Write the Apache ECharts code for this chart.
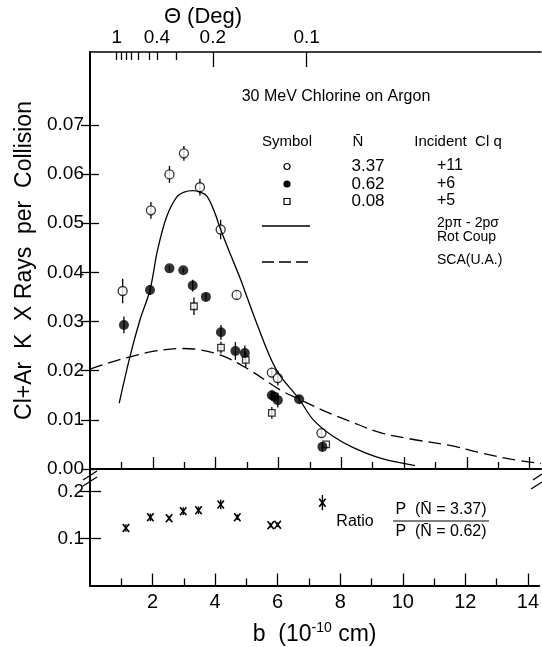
<!DOCTYPE html>
<html><head><meta charset="utf-8">
<script src="https://cdn.jsdelivr.net/npm/echarts@6/dist/echarts.min.js"></script>
<style>html,body{margin:0;padding:0;background:#fff}#c{width:542px;height:647px}</style>
</head><body><div id="c"></div>
<script>
// ---- data ----
const bTicksMajor = [2, 4, 6, 8, 10, 12, 14];
const bTicksMinor = [1, 3, 5, 7, 9, 11, 13];
const pTicks = [0, 0.01, 0.02, 0.03, 0.04, 0.05, 0.06, 0.07];
const ratioTicks = [0.1, 0.2];
const thetaVals = [1, 0.9, 0.8, 0.7, 0.6, 0.5, 0.4, 0.3, 0.2, 0.1];
const thetaPosB = [0.85, 0.99, 1.14, 1.30, 1.54, 1.88, 2.13, 2.76, 3.91, 6.90];
const thetaLabelVals = [1, 0.4, 0.2, 0.1];
const thetaLongVals = [0.2, 0.1];

// N = 3.37 (open circles)
const openB   = [1.04, 1.94, 2.53, 2.99, 3.50, 4.16, 4.67, 5.79, 5.98, 7.37];
const openP   = [0.0362, 0.0526, 0.0599, 0.0642, 0.0573, 0.0487, 0.0354, 0.0196, 0.0185, 0.0073];
const openErr = [0.0025, 0.0017, 0.0017, 0.0015, 0.0017, 0.0020, 0.0010, 0.0010, 0.0015, 0.0008];
// N = 0.62 (filled circles)
const fillB   = [1.08, 1.91, 2.53, 2.97, 3.27, 3.69, 4.17, 4.63, 4.93, 5.79, 5.87, 5.98, 6.66, 7.40];
const fillP   = [0.0293, 0.0364, 0.0408, 0.0404, 0.0373, 0.0350, 0.0278, 0.0240, 0.0236, 0.0150, 0.0147, 0.0140, 0.0142, 0.0045];
const fillErr = [0.0017, 0.0010, 0.0005, 0.0005, 0.0012, 0.0008, 0.0015, 0.0018, 0.0015, 0.0010, 0.0010, 0.0015, 0.0008, 0.0010];
// N = 0.08 (open squares)
const sqB   = [3.31, 4.17, 4.96, 5.79, 7.52];
const sqP   = [0.0331, 0.0247, 0.0222, 0.0114, 0.0050];
const sqErr = [0.0018, 0.0012, 0.0015, 0.0012, 0.0005];
// 2p pi - 2p sigma rotational coupling (solid)
const rotB = [0.93, 1.27, 1.59, 1.91, 2.15, 2.44, 2.76, 3.00, 3.27, 3.50, 3.72, 3.95, 4.16, 4.48, 4.78, 5.31, 5.94, 6.66, 7.11, 7.75, 8.40, 9.30, 10.35];
const rotP = [0.0134, 0.0228, 0.0303, 0.0364, 0.0445, 0.0513, 0.0553, 0.0563, 0.0566, 0.0563, 0.0555, 0.0525, 0.0487, 0.0435, 0.0388, 0.0296, 0.0201, 0.0142, 0.0100, 0.0066, 0.0043, 0.0021, 0.0007];
// SCA (U.A.) (dashed)
const scaB = [0, 0.6, 1.27, 2.0, 2.87, 3.3, 4.14, 4.99, 6.05, 6.66, 7.64, 8.2, 9.24, 10.3, 11.46, 12.5, 13.4, 14.36];
const scaP = [0.0203, 0.0216, 0.0228, 0.0239, 0.0245, 0.0244, 0.0232, 0.0205, 0.0161, 0.0142, 0.0113, 0.0099, 0.0074, 0.0060, 0.0048, 0.0032, 0.0020, 0.0011];
// Ratio panel
const ratioB   = [1.15, 1.93, 2.53, 2.98, 3.47, 4.18, 4.71, 5.78, 6.00, 7.43];
const ratioV   = [0.122, 0.145, 0.143, 0.158, 0.160, 0.172, 0.145, 0.128, 0.129, 0.176];
const ratioErr = [0.008, 0.008, 0.005, 0.008, 0.008, 0.010, 0.006, 0.005, 0.005, 0.016];

// ---- helpers ----
const zip = (a, b, c) => a.map((v, i) => c ? [v, b[i], c[i]] : [v, b[i]]);
const FONT = 'Liberation Sans';
const thetaLabelPos = thetaLabelVals.map(v => thetaPosB[thetaVals.indexOf(v)]);
const thetaLongPos = thetaLongVals.map(v => thetaPosB[thetaVals.indexOf(v)]);
const thetaShortPos = thetaPosB.filter((p, i) => thetaLongVals.indexOf(thetaVals[i]) < 0);
const XMAX = 14.36, YMAX = 0.0848, RMAX = 0.2475;

function errRender(params, api) {
  const x = api.value(0), y = api.value(1), e = api.value(2);
  const p1 = api.coord([x, y - e]), p2 = api.coord([x, y + e]);
  return { type: 'line', shape: { x1: p1[0], y1: p1[1], x2: p2[0], y2: p2[1] },
           style: { stroke: '#000', lineWidth: 1.3 } };
}
function starRender(params, api) {
  const x = api.value(0), y = api.value(1), e = api.value(2);
  const c = api.coord([x, y]);
  const p1 = api.coord([x, y - e]), p2 = api.coord([x, y + e]);
  const s = 3.2, t = 4;
  return { type: 'group', children: [
    { type: 'line', shape: { x1: p1[0], y1: p1[1], x2: p2[0], y2: p2[1] }, style: { stroke: '#000', lineWidth: 1.4 } },
    { type: 'line', shape: { x1: c[0] - s, y1: c[1] - t, x2: c[0] + s, y2: c[1] + t }, style: { stroke: '#000', lineWidth: 1.6 } },
    { type: 'line', shape: { x1: c[0] - s, y1: c[1] + t, x2: c[0] + s, y2: c[1] - t }, style: { stroke: '#000', lineWidth: 1.6 } }
  ]};
}

const lineBold = { show: true, lineStyle: { color: '#000', width: 2 } };
const lineThin = { show: true, lineStyle: { color: '#000', width: 1.5 } };
const noLine = { show: false };
const tk = (vals, len) => ({ show: true, inside: true, length: len, customValues: vals, lineStyle: { color: '#000', width: 1.3 } });
const noLabel = { show: false };
const noSplit = { show: false };

function xAx(grid, pos, line, tick, label, extra) {
  return Object.assign({ type: 'value', gridIndex: grid, position: pos, min: 0, max: XMAX,
    axisLine: line, axisTick: tick, axisLabel: label, splitLine: noSplit }, extra || {});
}

const option = {
  animation: false,
  backgroundColor: '#fff',
  grid: [
    { left: 90, top: 52, width: 451, height: 417 },
    { left: 90, top: 469, width: 451, height: 123 }
  ],
  xAxis: [
    xAx(0, 'bottom', lineBold, tk(bTicksMajor, 12), noLabel),
    xAx(0, 'bottom', noLine, tk(bTicksMinor, 7), noLabel),
    xAx(0, 'top', lineThin, tk(thetaShortPos, 8), {
      show: true, customValues: thetaLabelPos, margin: 5, color: '#000', fontSize: 19, fontFamily: FONT,
      formatter: v => { let best = 0; thetaLabelPos.forEach((p, i) => { if (Math.abs(p - v) < Math.abs(thetaLabelPos[best] - v)) best = i; }); return String(thetaLabelVals[best]); }
    }),
    xAx(0, 'top', noLine, tk(thetaLongPos, 15), noLabel),
    xAx(1, 'bottom', lineBold, tk(bTicksMajor, 12), {
      show: true, customValues: bTicksMajor, margin: 7, color: '#000', fontSize: 20, fontFamily: FONT
    }, {
      name: 'b  (10{s|-10} cm)', nameLocation: 'middle', nameGap: 36,
      nameTextStyle: { color: '#000', fontSize: 23, fontFamily: FONT,
        rich: { s: { fontSize: 14, fontFamily: FONT, color: '#000', verticalAlign: 'top', padding: [0, 0, 12, 0] } } }
    }),
    xAx(1, 'bottom', noLine, tk(bTicksMinor, 7), noLabel)
  ],
  yAxis: [
    { type: 'value', gridIndex: 0, position: 'left', min: 0, max: YMAX,
      axisLine: lineBold, axisTick: tk(pTicks, 9), splitLine: noSplit,
      axisLabel: { show: true, customValues: pTicks, margin: 6, color: '#000', fontSize: 19, fontFamily: FONT, formatter: v => v.toFixed(2) },
      name: 'Cl+Ar  K  X Rays  per  Collision', nameLocation: 'middle', nameGap: 48,
      nameTextStyle: { color: '#000', fontSize: 23, fontFamily: FONT } },
    { type: 'value', gridIndex: 0, position: 'right', min: 0, max: YMAX,
      axisLine: lineThin, axisTick: tk(pTicks, 9), splitLine: noSplit, axisLabel: noLabel },
    { type: 'value', gridIndex: 1, position: 'left', min: 0, max: RMAX,
      axisLine: lineBold, axisTick: tk(ratioTicks, 11), splitLine: noSplit,
      axisLabel: { show: true, customValues: ratioTicks, margin: 6, color: '#000', fontSize: 19, fontFamily: FONT, formatter: v => v.toFixed(1) } },
    { type: 'value', gridIndex: 1, position: 'right', min: 0, max: RMAX,
      axisLine: lineThin, axisTick: tk(ratioTicks, 11), splitLine: noSplit, axisLabel: noLabel }
  ],
  graphic: [
    { type: 'text', x: 203, y: 17, style: { text: 'Θ (Deg)', font: '22px ' + FONT, fill: '#000', textAlign: 'center', textVerticalAlign: 'middle' } },
    { type: 'text', x: 336, y: 97, style: { text: '30 MeV Chlorine on Argon', font: '16px ' + FONT, fill: '#000', textAlign: 'center', textVerticalAlign: 'middle' } },
    // legend
    { type: 'text', x: 287, y: 142, style: { text: 'Symbol', font: '15px ' + FONT, fill: '#000', textAlign: 'center', textVerticalAlign: 'middle' } },
    { type: 'text', x: 358, y: 142, style: { text: 'N\u0304', font: '15px ' + FONT, fill: '#000', textAlign: 'center', textVerticalAlign: 'middle' } },
    { type: 'text', x: 458, y: 142, style: { text: 'Incident  Cl q', font: '15px ' + FONT, fill: '#000', textAlign: 'center', textVerticalAlign: 'middle' } },
    { type: 'circle', shape: { cx: 287, cy: 166.5, r: 3 }, style: { fill: '#fff', stroke: '#000', lineWidth: 1.2 } },
    { type: 'circle', shape: { cx: 287, cy: 184, r: 3.6 }, style: { fill: '#000' } },
    { type: 'rect', shape: { x: 284, y: 198.5, width: 6, height: 6 }, style: { fill: '#fff', stroke: '#000', lineWidth: 1.2 } },
    { type: 'text', x: 368, y: 166, style: { text: '3.37', font: '17px ' + FONT, fill: '#000', textAlign: 'center', textVerticalAlign: 'middle' } },
    { type: 'text', x: 368, y: 184, style: { text: '0.62', font: '17px ' + FONT, fill: '#000', textAlign: 'center', textVerticalAlign: 'middle' } },
    { type: 'text', x: 368, y: 201, style: { text: '0.08', font: '17px ' + FONT, fill: '#000', textAlign: 'center', textVerticalAlign: 'middle' } },
    { type: 'text', x: 437, y: 166, style: { text: '+11', font: '16px ' + FONT, fill: '#000', textAlign: 'left', textVerticalAlign: 'middle' } },
    { type: 'text', x: 437, y: 184, style: { text: '+6', font: '16px ' + FONT, fill: '#000', textAlign: 'left', textVerticalAlign: 'middle' } },
    { type: 'text', x: 437, y: 201, style: { text: '+5', font: '16px ' + FONT, fill: '#000', textAlign: 'left', textVerticalAlign: 'middle' } },
    { type: 'line', shape: { x1: 262, y1: 226, x2: 310, y2: 226 }, style: { stroke: '#000', lineWidth: 1.3 } },
    { type: 'line', shape: { x1: 262, y1: 262, x2: 310, y2: 262 }, style: { stroke: '#000', lineWidth: 1.3, lineDash: [12, 5] } },
    { type: 'text', x: 437, y: 223, style: { text: '2pπ - 2pσ', font: '14px ' + FONT, fill: '#000', textAlign: 'left', textVerticalAlign: 'middle' } },
    { type: 'text', x: 437, y: 237, style: { text: 'Rot Coup', font: '14px ' + FONT, fill: '#000', textAlign: 'left', textVerticalAlign: 'middle' } },
    { type: 'text', x: 437, y: 260, style: { text: 'SCA(U.A.)', font: '14px ' + FONT, fill: '#000', textAlign: 'left', textVerticalAlign: 'middle' } },
    // ratio annotation
    { type: 'text', x: 355, y: 522, style: { text: 'Ratio', font: '16px ' + FONT, fill: '#000', textAlign: 'center', textVerticalAlign: 'middle' } },
    { type: 'text', x: 441, y: 510, style: { text: 'P  (N\u0304 = 3.37)', font: '16px ' + FONT, fill: '#000', textAlign: 'center', textVerticalAlign: 'middle' } },
    { type: 'line', shape: { x1: 393, y1: 521, x2: 489, y2: 521 }, style: { stroke: '#000', lineWidth: 1.2 } },
    { type: 'text', x: 441, y: 532, style: { text: 'P  (N\u0304 = 0.62)', font: '16px ' + FONT, fill: '#000', textAlign: 'center', textVerticalAlign: 'middle' } },
    // axis break marks
    { type: 'line', shape: { x1: 83, y1: 480, x2: 97, y2: 471 }, style: { stroke: '#000', lineWidth: 1.3 } },
    { type: 'line', shape: { x1: 83, y1: 486, x2: 97, y2: 477 }, style: { stroke: '#000', lineWidth: 1.3 } },
    { type: 'line', shape: { x1: 533, y1: 480, x2: 542, y2: 474 }, style: { stroke: '#000', lineWidth: 1.3 } },
    { type: 'line', shape: { x1: 531, y1: 489, x2: 542, y2: 482 }, style: { stroke: '#000', lineWidth: 1.3 } }
  ],
  series: [
    { type: 'line', xAxisIndex: 0, yAxisIndex: 0, data: zip(rotB, rotP), smooth: 0.35, showSymbol: false,
      lineStyle: { color: '#000', width: 1.3 } },
    { type: 'line', xAxisIndex: 0, yAxisIndex: 0, data: zip(scaB, scaP), smooth: 0.35, showSymbol: false,
      lineStyle: { color: '#000', width: 1.3, type: [13, 6] } },
    { type: 'custom', xAxisIndex: 0, yAxisIndex: 0, data: zip(openB, openP, openErr), renderItem: errRender, encode: { x: 0, y: 1 } },
    { type: 'custom', xAxisIndex: 0, yAxisIndex: 0, data: zip(fillB, fillP, fillErr), renderItem: errRender, encode: { x: 0, y: 1 } },
    { type: 'custom', xAxisIndex: 0, yAxisIndex: 0, data: zip(sqB, sqP, sqErr), renderItem: errRender, encode: { x: 0, y: 1 } },
    { type: 'scatter', xAxisIndex: 0, yAxisIndex: 0, data: zip(sqB, sqP), symbol: 'rect', symbolSize: 6.5,
      itemStyle: { color: '#fff', borderColor: '#000', borderWidth: 1.3 } },
    { type: 'scatter', xAxisIndex: 0, yAxisIndex: 0, data: zip(openB, openP), symbol: 'circle', symbolSize: 9,
      itemStyle: { color: '#fff', borderColor: '#000', borderWidth: 1.3 } },
    { type: 'scatter', xAxisIndex: 0, yAxisIndex: 0, data: zip(fillB, fillP), symbol: 'circle', symbolSize: 10,
      itemStyle: { color: '#000' } },
    { type: 'custom', xAxisIndex: 4, yAxisIndex: 2, data: zip(ratioB, ratioV, ratioErr), renderItem: starRender, encode: { x: 0, y: 1 } }
  ]
};
const chart = echarts.init(document.getElementById('c'), null, { renderer: 'canvas' });
chart.setOption(option);
</script></body></html>
